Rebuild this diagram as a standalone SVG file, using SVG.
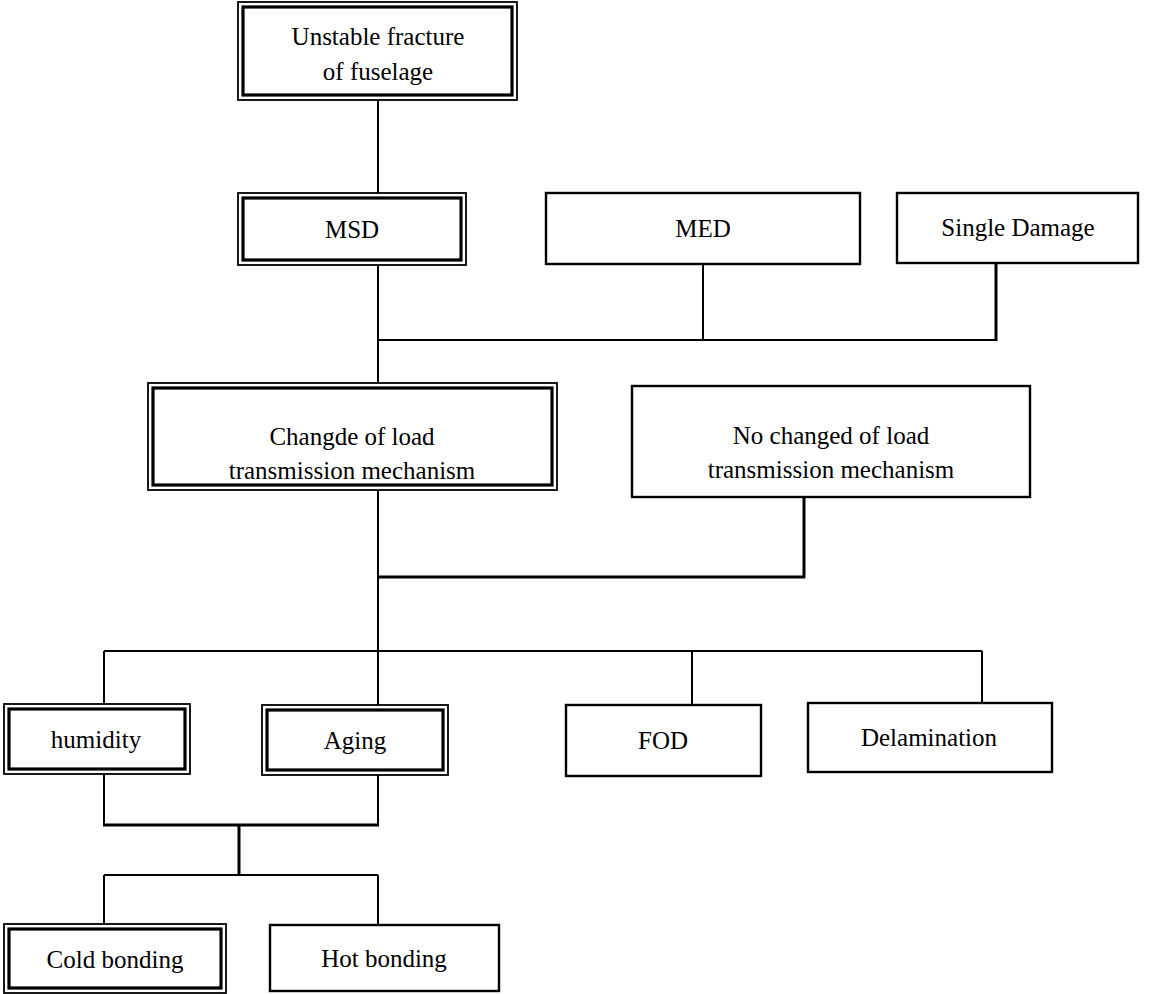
<svg xmlns="http://www.w3.org/2000/svg" width="1164" height="994" viewBox="0 0 1164 994">
<style>
.o{fill:#fff;stroke:#000;stroke-width:1.8}
.i{fill:none;stroke:#000;stroke-width:3.2}
.s{fill:#fff;stroke:#000;stroke-width:2.4}
.t{font-family:"Liberation Serif","Times New Roman",serif;font-size:25px;fill:#000;text-anchor:middle}
.c{fill:none;stroke:#000;stroke-width:2}
.k{fill:none;stroke:#000;stroke-width:3}
</style>
<rect width="1164" height="994" fill="#fff"/>
<g id="connectors">
<line class="c" x1="378" y1="100" x2="378" y2="193"/>
<line class="c" x1="378" y1="265" x2="378" y2="383"/>
<line class="c" x1="378" y1="340" x2="997" y2="340"/>
<line class="c" x1="703" y1="264" x2="703" y2="340"/>
<line class="k" x1="996" y1="263" x2="996" y2="341"/>
<line class="c" x1="378" y1="490" x2="378" y2="706"/>
<line class="k" x1="378" y1="577" x2="805" y2="577"/>
<line class="k" x1="804" y1="497" x2="804" y2="578"/>
<line class="c" x1="104" y1="651" x2="982" y2="651"/>
<line class="c" x1="104" y1="651" x2="104" y2="704"/>
<line class="c" x1="692" y1="651" x2="692" y2="705"/>
<line class="c" x1="982" y1="651" x2="982" y2="703"/>
<line class="c" x1="104" y1="774" x2="104" y2="825"/>
<line class="c" x1="378" y1="775" x2="378" y2="825"/>
<line class="k" x1="103" y1="825" x2="379" y2="825"/>
<line class="k" x1="239" y1="825" x2="239" y2="875"/>
<line class="c" x1="104" y1="875" x2="378" y2="875"/>
<line class="c" x1="104" y1="875" x2="104" y2="924"/>
<line class="c" x1="378" y1="875" x2="378" y2="925"/>
</g>
<g id="n-unstable">
<rect class="o" x="238" y="2" width="279" height="98"/>
<rect class="i" x="243" y="7" width="269" height="88"/>
<text class="t" x="378" y="45">Unstable fracture</text>
<text class="t" x="378" y="80">of fuselage</text>
</g>
<g id="n-msd">
<rect class="o" x="238" y="193" width="228" height="72"/>
<rect class="i" x="243" y="198" width="218" height="62"/>
<text class="t" x="352" y="238">MSD</text>
</g>
<g id="n-med">
<rect class="s" x="546" y="193" width="314" height="71"/>
<text class="t" x="703" y="237">MED</text>
</g>
<g id="n-single">
<rect class="s" x="897" y="193" width="241" height="70"/>
<text class="t" x="1018" y="236">Single Damage</text>
</g>
<g id="n-changde">
<rect class="o" x="148" y="383" width="409" height="107"/>
<rect class="i" x="153" y="388" width="399" height="97"/>
<text class="t" x="352" y="445">Changde of load</text>
<text class="t" x="352" y="479">transmission mechanism</text>
</g>
<g id="n-nochanged">
<rect class="s" x="632" y="386" width="398" height="111"/>
<text class="t" x="831" y="444">No changed of load</text>
<text class="t" x="831" y="478">transmission mechanism</text>
</g>
<g id="n-humidity">
<rect class="o" x="4" y="704" width="186" height="70"/>
<rect class="i" x="9" y="709" width="176" height="60"/>
<text class="t" x="96" y="748">humidity</text>
</g>
<g id="n-aging">
<rect class="o" x="262" y="705" width="186" height="70"/>
<rect class="i" x="267" y="710" width="176" height="60"/>
<text class="t" x="355" y="749">Aging</text>
</g>
<g id="n-fod">
<rect class="s" x="566" y="705" width="195" height="71"/>
<text class="t" x="663" y="749">FOD</text>
</g>
<g id="n-delam">
<rect class="s" x="808" y="703" width="244" height="69"/>
<text class="t" x="929" y="746">Delamination</text>
</g>
<g id="n-cold">
<rect class="o" x="4" y="924" width="222" height="69"/>
<rect class="i" x="9" y="929" width="212" height="59"/>
<text class="t" x="115" y="968">Cold bonding</text>
</g>
<g id="n-hot">
<rect class="s" x="270" y="925" width="229" height="66"/>
<text class="t" x="384" y="967">Hot bonding</text>
</g>
</svg>
